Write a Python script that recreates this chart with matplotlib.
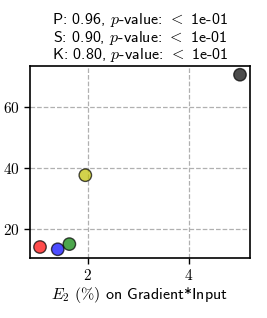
import matplotlib
matplotlib.use("Agg")
import matplotlib.pyplot as plt
from matplotlib.ticker import FuncFormatter, MultipleLocator

### data
x_vals = [1.06, 1.41, 1.64, 1.955, 5.01]
y_vals = [13.95, 13.2, 14.9, 37.6, 70.7]
point_colors = ['r', 'b', 'g', 'y', 'k']
stats = [('P', 0.96), ('S', 0.90), ('K', 0.80)]
pval = '1e-01'

plt.rcParams['mathtext.fontset'] = 'cm'
plt.rcParams['font.family'] = ['cmss10', 'DejaVu Sans']
plt.rcParams['axes.unicode_minus'] = False

fig = plt.figure(figsize=(2.67, 3.18), dpi=100)
ax = fig.add_axes([30/267, 1 - 258/318, 220/267, 192/318])

ax.scatter(x_vals, y_vals, c=point_colors, alpha=0.7, s=80,
           edgecolors='k', linewidths=1, zorder=3)

ax.xaxis.set_major_locator(MultipleLocator(2))
ax.yaxis.set_major_locator(MultipleLocator(20))
fmt = FuncFormatter(lambda v, p: r'$%g$' % v)
ax.xaxis.set_major_formatter(fmt)
ax.yaxis.set_major_formatter(fmt)
ax.tick_params(labelsize=11, length=4, width=1)
ax.grid(True, linestyle='--', color='#b0b0b0', linewidth=0.9)
ax.set_axisbelow(True)
for sp in ax.spines.values():
    sp.set_linewidth(1.2)

title = '\n'.join(r'%s: %.2f, $p$-value: $<$ %s' % (k, v, pval) for k, v in stats)
ax.set_title(title, fontsize=11.5, pad=5, linespacing=0.95)
ax.set_xlabel(r'$E_2\ (\%)$ on Gradient*Input', fontsize=11.5, labelpad=1)

fig.savefig('out.png', dpi=100)
